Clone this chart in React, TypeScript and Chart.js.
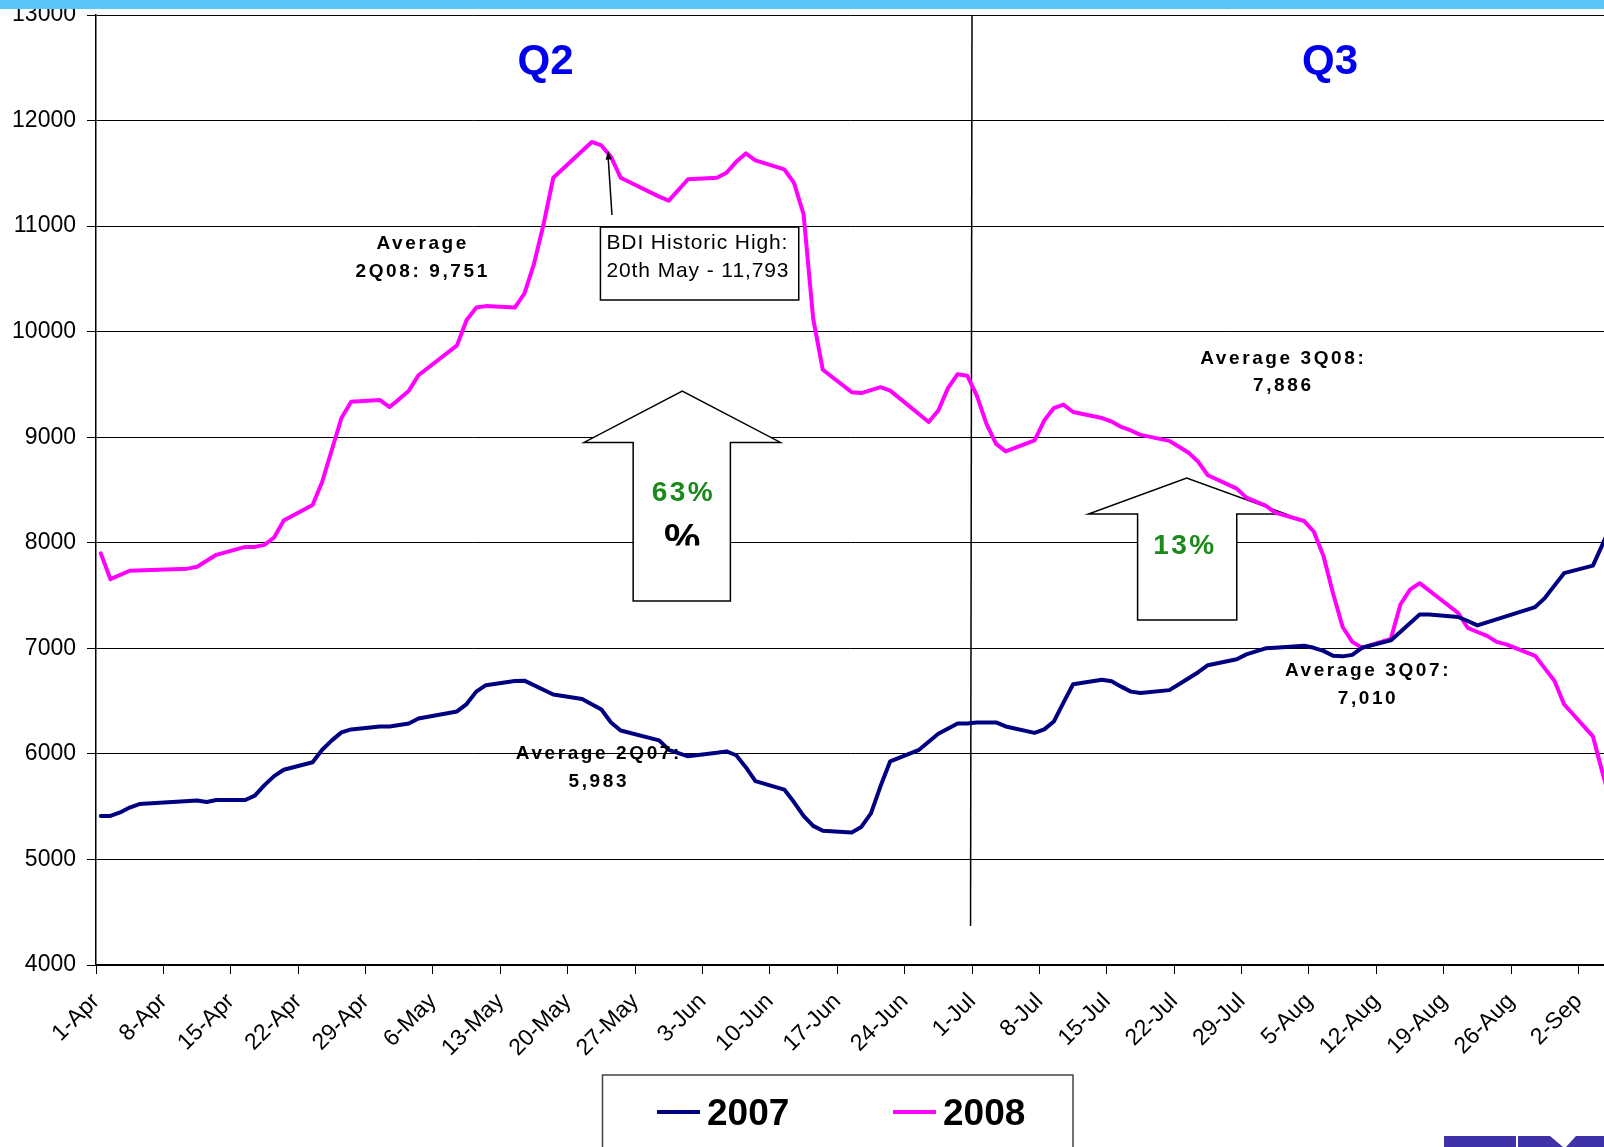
import React, { useEffect, useRef } from 'react';
import { Chart, registerables } from 'chart.js';

Chart.register(...registerables);

const tickLabels = ['1-Apr', '8-Apr', '15-Apr', '22-Apr', '29-Apr', '6-May', '13-May', '20-May', '27-May', '3-Jun', '10-Jun', '17-Jun', '24-Jun', '1-Jul', '8-Jul', '15-Jul', '22-Jul', '29-Jul', '5-Aug', '12-Aug', '19-Aug', '26-Aug', '2-Sep'];

// day offsets from 1-Apr (points sit mid-day on the date axis)
const days2008 = [0.5, 1.5, 3.5, 9.5, 10.5, 12.5, 15.5, 16.5, 17.5, 18.5, 19.5, 22.5, 23.5, 25.5, 26.5, 29.5, 30.5, 31.5, 32.5, 33.5, 37.5, 38.5, 39.5, 40.5, 43.5, 44.5, 45.5, 46.5, 47.5, 51.5, 52.5, 53.5, 54.5, 58.5, 59.5, 61.5, 64.5, 65.5, 66.5, 67.5, 68.5, 71.5, 72.5, 73.5, 74.5, 75.5, 78.5, 79.5, 81.5, 82.5, 86.5, 87.5, 88.5, 89.5, 90.5, 91.5, 92.5, 93.5, 94.5, 97.5, 98.5, 99.5, 100.5, 101.5, 104.5, 105.5, 106.5, 107.5, 108.5, 111.5, 112.5, 113.5, 114.5, 115.5, 118.5, 119.5, 121.5, 122.5, 125.5, 126.5, 127.5, 128.5, 129.5, 130.5, 131.5, 134.5, 135.5, 136.5, 137.5, 141.5, 142.5, 143.5, 144.5, 145.5, 146.5, 149.5, 150.5, 151.5, 152.5, 155.5, 156.5, 157.5];
const bdi2008 = [7900, 7655, 7735, 7755, 7773, 7886, 7961, 7961, 7980, 8050, 8211, 8357, 8579, 9182, 9337, 9352, 9286, 9361, 9441, 9587, 9870, 10110, 10228, 10242, 10228, 10360, 10643, 11020, 11458, 11797, 11764, 11656, 11458, 11279, 11241, 11444, 11458, 11505, 11609, 11689, 11623, 11538, 11411, 11114, 10124, 9639, 9427, 9418, 9474, 9441, 9144, 9253, 9465, 9597, 9583, 9394, 9126, 8937, 8866, 8970, 9158, 9276, 9309, 9239, 9182, 9149, 9097, 9064, 9022, 8965, 8909, 8853, 8767, 8640, 8513, 8428, 8352, 8286, 8206, 8107, 7876, 7522, 7202, 7061, 7005, 7089, 7415, 7556, 7617, 7335, 7193, 7155, 7118, 7061, 7038, 6929, 6810, 6692, 6470, 6166, 5820, 5490];

const days2007 = [0.5, 1.5, 2.5, 3.5, 4.5, 10.5, 11.5, 12.5, 15.5, 16.5, 17.5, 18.5, 19.5, 22.5, 23.5, 24.5, 25.5, 26.5, 29.5, 30.5, 32.5, 33.5, 37.5, 38.5, 39.5, 40.5, 43.5, 44.5, 47.5, 50.5, 52.5, 53.5, 54.5, 58.5, 59.5, 61.5, 64.5, 65.5, 66.5, 67.5, 68.5, 71.5, 72.5, 73.5, 74.5, 75.5, 78.5, 79.5, 80.5, 81.5, 82.5, 85.5, 87.5, 89.5, 90.5, 91.5, 93.5, 94.5, 97.5, 98.5, 99.5, 100.5, 101.5, 104.5, 105.5, 106.5, 107.5, 108.5, 111.5, 112.5, 113.5, 114.5, 115.5, 118.5, 119.5, 121.5, 122.5, 125.5, 126.5, 127.5, 128.5, 129.5, 130.5, 131.5, 134.5, 137.5, 138.5, 141.5, 142.5, 143.5, 149.5, 150.5, 151.5, 152.5, 155.5, 156.5, 157.5];
const bdi2007 = [5412, 5412, 5445, 5492, 5525, 5558, 5544, 5563, 5563, 5605, 5704, 5789, 5850, 5921, 6039, 6128, 6204, 6232, 6260, 6260, 6288, 6335, 6402, 6472, 6590, 6651, 6690, 6694, 6562, 6520, 6420, 6298, 6222, 6128, 6039, 5977, 6010, 6024, 5987, 5874, 5742, 5662, 5544, 5412, 5318, 5271, 5256, 5308, 5436, 5695, 5930, 6039, 6190, 6288, 6288, 6298, 6298, 6260, 6199, 6232, 6307, 6486, 6660, 6703, 6689, 6637, 6590, 6576, 6604, 6660, 6717, 6774, 6840, 6896, 6943, 7000, 7005, 7024, 7005, 6976, 6929, 6924, 6938, 7005, 7075, 7320, 7320, 7297, 7259, 7217, 7391, 7476, 7594, 7712, 7783, 7985, 8190];

const seriesNames = ['2007', '2008'];
const seriesColors = ['#000080', '#FF00FF'];

const FONT = '"Liberation Sans", Arial, sans-serif';
const W = 1604;
const H = 1147;

type TextBlock = { lines: string[]; day: number; val: number };
const avgLabels: TextBlock[] = [
  { lines: ['Average', '2Q08: 9,751'], day: 33.8, val: 10840 },
  { lines: ['Average 3Q08:', '7,886'], day: 123.2, val: 9755 },
  { lines: ['Average 3Q07:', '7,010'], day: 132.0, val: 6795 },
  { lines: ['Average 2Q07:', '5,983'], day: 52.1, val: 6008 },
];

function blockArrow(ctx: CanvasRenderingContext2D, xl: number, xr: number, hl: number, hr: number, tx: number, ty: number, sy: number, by: number) {
  ctx.beginPath();
  ctx.moveTo(xl, by);
  ctx.lineTo(xl, sy);
  ctx.lineTo(hl, sy);
  ctx.lineTo(tx, ty);
  ctx.lineTo(hr, sy);
  ctx.lineTo(xr, sy);
  ctx.lineTo(xr, by);
  ctx.closePath();
  ctx.fillStyle = '#ffffff';
  ctx.fill();
  ctx.lineWidth = 1.5;
  ctx.strokeStyle = '#000000';
  ctx.stroke();
}

const annotPlugin = {
  id: 'bdiAnnotations',
  beforeDatasetsDraw(chart: any) {
    const ctx: CanvasRenderingContext2D = chart.ctx;
    const xs = chart.scales.x;
    const ys = chart.scales.y;
    const px = (d: number) => xs.getPixelForValue(d);
    const py = (v: number) => ys.getPixelForValue(v);
    ctx.save();
    // quarter divider at 1-Jul
    ctx.beginPath();
    ctx.moveTo(px(91), py(13000));
    ctx.lineTo(px(91) - 1.5, py(4370));
    ctx.lineWidth = 1.5;
    ctx.strokeStyle = '#000';
    ctx.stroke();
    // block arrows
    blockArrow(ctx, px(55.8), px(65.9), px(50.7), px(71.1), px(60.9), py(9438), py(8951), py(7448));
    blockArrow(ctx, px(108.2), px(118.5), px(103.1), px(123.6), px(113.3), py(8613), py(8272), py(7268));
    ctx.restore();
  },
  afterDatasetsDraw(chart: any) {
    const ctx: CanvasRenderingContext2D = chart.ctx;
    const xs = chart.scales.x;
    const ys = chart.scales.y;
    const px = (d: number) => xs.getPixelForValue(d);
    const py = (v: number) => ys.getPixelForValue(v);
    ctx.save();
    // Quarter titles
    ctx.fillStyle = '#0000EE';
    ctx.font = `bold 42px ${FONT}`;
    ctx.textAlign = 'center';
    ctx.textBaseline = 'middle';
    ctx.fillText('Q2', px(46.7), py(12583) + 3);
    ctx.fillText('Q3', px(128.2), py(12583) + 3);

    // averages
    ctx.fillStyle = '#000';
    ctx.font = `bold 19px ${FONT}`;
    (ctx as any).letterSpacing = '2.6px';
    for (const b of avgLabels) {
      b.lines.forEach((ln, i) => {
        ctx.fillText(ln, px(b.day) + 1.3, py(b.val) + 1 + i * 27.5);
      });
    }

    // percentages
    ctx.fillStyle = '#1A8A1A';
    ctx.font = `bold 28px ${FONT}`;
    (ctx as any).letterSpacing = '2.5px';
    ctx.fillText('63%', px(60.9) + 1.2, py(8471));
    ctx.fillText('13%', px(113.0) + 1.2, py(7969));
    (ctx as any).letterSpacing = '0px';

    // clipped black "%"
    ctx.save();
    const clipY = py(7975);
    ctx.beginPath();
    ctx.rect(px(55), clipY - 80, px(67) - px(55), 80);
    ctx.clip();
    ctx.fillStyle = '#000';
    ctx.font = `bold 41px ${FONT}`;
    ctx.textBaseline = 'alphabetic';
    ctx.fillText('%', px(60.9), py(7915));
    ctx.restore();

    // BDI historic-high callout box
    const bx0 = px(52.4), bx1 = px(73.0), by0 = py(10991), by1 = py(10300);
    ctx.fillStyle = '#fff';
    ctx.fillRect(bx0, by0, bx1 - bx0, by1 - by0);
    ctx.lineWidth = 1.5;
    ctx.strokeStyle = '#000';
    ctx.strokeRect(bx0, by0, bx1 - bx0, by1 - by0);
    ctx.fillStyle = '#000';
    ctx.font = `21px ${FONT}`;
    (ctx as any).letterSpacing = '0.9px';
    ctx.textAlign = 'left';
    ctx.textBaseline = 'middle';
    ctx.fillText('BDI Historic High:', bx0 + 6, by0 + 16);
    ctx.fillText('20th May - 11,793', bx0 + 6, by0 + 44);
    (ctx as any).letterSpacing = '0px';

    // pointer arrow to the peak
    const ax0 = px(53.6), ay0 = py(11105), ax1 = px(53.2), ay1 = py(11711);
    ctx.beginPath();
    ctx.moveTo(ax0, ay0);
    ctx.lineTo(ax1, ay1 + 6);
    ctx.lineWidth = 1.5;
    ctx.stroke();
    const ang = Math.atan2(ay1 - ay0, ax1 - ax0);
    ctx.beginPath();
    ctx.moveTo(ax1, ay1);
    ctx.lineTo(ax1 - 9 * Math.cos(ang - 0.35), ay1 - 9 * Math.sin(ang - 0.35));
    ctx.lineTo(ax1 - 9 * Math.cos(ang + 0.35), ay1 - 9 * Math.sin(ang + 0.35));
    ctx.closePath();
    ctx.fill();
    ctx.restore();
  },
  afterDraw(chart: any) {
    const ctx: CanvasRenderingContext2D = chart.ctx;
    ctx.save();
    // top banner stripe
    ctx.fillStyle = '#5CC6F8';
    ctx.fillRect(0, 0, W, 9);

    // legend box
    ctx.fillStyle = '#fff';
    ctx.fillRect(602.5, 1075, 470.5, 90);
    ctx.strokeStyle = '#444';
    ctx.lineWidth = 1.5;
    ctx.strokeRect(602.5, 1075, 470.5, 90);
    const items = [
      { x0: 657, x1: 700, tx: 707 },
      { x0: 893, x1: 936, tx: 943 },
    ];
    items.forEach((it, i) => {
      ctx.beginPath();
      ctx.moveTo(it.x0, 1112);
      ctx.lineTo(it.x1, 1112);
      ctx.strokeStyle = seriesColors[i];
      ctx.lineWidth = 4;
      ctx.stroke();
      ctx.fillStyle = '#000';
      ctx.font = `bold 37px ${FONT}`;
      ctx.textAlign = 'left';
      ctx.textBaseline = 'middle';
      ctx.fillText(seriesNames[i], it.tx, 1115);
    });

    // partial logo at bottom right
    ctx.fillStyle = '#3F31A8';
    ctx.fillRect(1444, 1136, 72, 11);
    ctx.beginPath();
    ctx.moveTo(1518, 1136);
    ctx.lineTo(1550, 1136);
    ctx.lineTo(1563, 1147);
    ctx.lineTo(1518, 1147);
    ctx.closePath();
    ctx.fill();
    ctx.beginPath();
    ctx.moveTo(1576, 1136);
    ctx.lineTo(1604, 1136);
    ctx.lineTo(1604, 1147);
    ctx.lineTo(1566, 1147);
    ctx.closePath();
    ctx.fill();
    ctx.restore();
  },
};

export default function App() {
  const ref = useRef<HTMLCanvasElement | null>(null);
  useEffect(() => {
    if (!ref.current) return;
    const chart = new Chart(ref.current, {
      type: 'line',
      data: {
        datasets: [
          {
            label: seriesNames[0],
            data: days2007.map((d, i) => ({ x: d, y: bdi2007[i] })),
            borderColor: seriesColors[0],
            backgroundColor: seriesColors[0],
            borderWidth: 4,
            pointRadius: 0,
            tension: 0,
            borderJoinStyle: 'round',
            borderCapStyle: 'round',
          },
          {
            label: seriesNames[1],
            data: days2008.map((d, i) => ({ x: d, y: bdi2008[i] })),
            borderColor: seriesColors[1],
            backgroundColor: seriesColors[1],
            borderWidth: 4,
            pointRadius: 0,
            tension: 0,
            borderJoinStyle: 'round',
            borderCapStyle: 'round',
          },
        ],
      },
      options: {
        responsive: false,
        animation: false,
        events: [],
        layout: { padding: { top: 15, left: 0, right: 0, bottom: 0 } },
        plugins: {
          legend: { display: false },
          tooltip: { enabled: false },
        },
        scales: {
          x: {
            type: 'linear',
            min: 0,
            max: 156.65,
            afterBuildTicks: (scale: any) => {
              scale.ticks = tickLabels.map((_, i) => ({ value: i * 7 }));
            },
            afterFit: (scale: any) => {
              scale.height = H - 965;
              scale.paddingLeft = 0;
              scale.paddingRight = 0;
            },
            ticks: {
              autoSkip: false,
              minRotation: 45,
              maxRotation: 45,
              padding: 14,
              color: '#000',
              font: { family: FONT, size: 23 },
              callback: (v: any) => tickLabels[Math.round(Number(v) / 7)] ?? '',
            },
            grid: { drawOnChartArea: false, drawTicks: true, tickLength: 9, color: '#000', lineWidth: 1 },
            border: { display: true, color: '#000', width: 1.5 },
          },
          y: {
            min: 4000,
            max: 13000,
            afterFit: (scale: any) => {
              scale.width = 96;
              scale.paddingTop = 0;
              scale.paddingBottom = 0;
            },
            ticks: {
              stepSize: 1000,
              padding: 11,
              color: '#000',
              font: { family: FONT, size: 23 },
              callback: (v: any) => String(v),
            },
            grid: { color: '#000', lineWidth: 1, tickLength: 9 },
            border: { display: true, color: '#000', width: 1.5 },
          },
        },
      },
      plugins: [annotPlugin],
    } as any);
    return () => chart.destroy();
  }, []);
  return (
    <div style={{ position: 'absolute', left: 0, top: 0, width: W, height: H, background: '#fff', overflow: 'hidden' }}>
      <canvas ref={ref} width={W} height={H} style={{ display: 'block' }} />
    </div>
  );
}
